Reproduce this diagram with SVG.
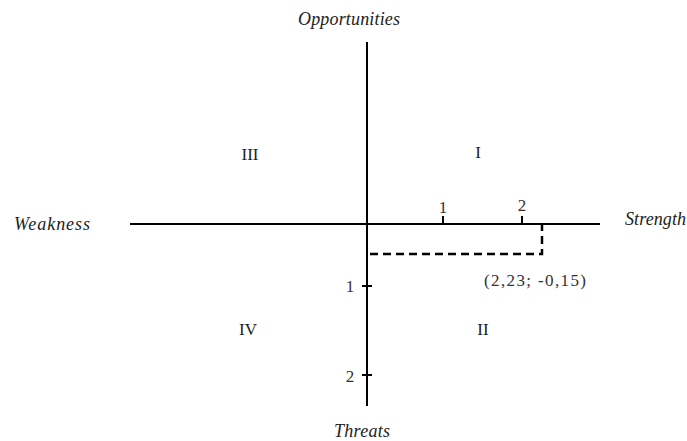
<svg xmlns="http://www.w3.org/2000/svg" width="687" height="441" viewBox="0 0 687 441">
<style>
.ax{stroke:#000;stroke-width:2;fill:none}
.tk{stroke:#000;stroke-width:2}
.dash{stroke:#000;stroke-width:2.5;fill:none;stroke-dasharray:8 5}
.lbl{font-family:"Liberation Serif","DejaVu Serif",serif;font-style:italic;font-size:18px;fill:#222}
.num{font-family:"Liberation Serif","DejaVu Serif",serif;font-size:17px;fill:#333}
.q{font-family:"Liberation Serif","DejaVu Serif",serif;font-size:17px;fill:#222}
</style>
<rect width="687" height="441" fill="#fff"/>
<g id="connectors">
<line class="ax" x1="130" y1="224" x2="600" y2="224"/>
<line class="ax" x1="367" y1="42" x2="367" y2="406"/>
<line class="tk" x1="443" y1="216" x2="443" y2="224"/>
<line class="tk" x1="522" y1="216" x2="522" y2="224"/>
<line class="tk" x1="362" y1="286" x2="372" y2="286"/>
<line class="tk" x1="362" y1="375" x2="372" y2="375"/>
<path class="dash" d="M370 254 H542 V224"/>
</g>
<g id="axis-labels">
<text class="lbl" x="298" y="25" textLength="102">Opportunities</text>
<text class="lbl" x="334" y="437" textLength="56">Threats</text>
<text class="lbl" x="14" y="230" textLength="76">Weakness</text>
<text class="lbl" x="625" y="225" textLength="61">Strength</text>
</g>
<g id="ticks-labels">
<text class="num" x="443" y="213" text-anchor="middle">1</text>
<text class="num" x="522" y="211" text-anchor="middle">2</text>
<text class="num" x="350" y="292" text-anchor="middle">1</text>
<text class="num" x="350" y="382" text-anchor="middle">2</text>
<text class="num" x="484" y="286" textLength="102">(2,23; -0,15)</text>
</g>
<g id="quadrants">
<text class="q" x="250" y="160" text-anchor="middle">III</text>
<text class="q" x="478" y="158" text-anchor="middle">I</text>
<text class="q" x="248" y="335" text-anchor="middle">IV</text>
<text class="q" x="483" y="335" text-anchor="middle">II</text>
</g>
</svg>
